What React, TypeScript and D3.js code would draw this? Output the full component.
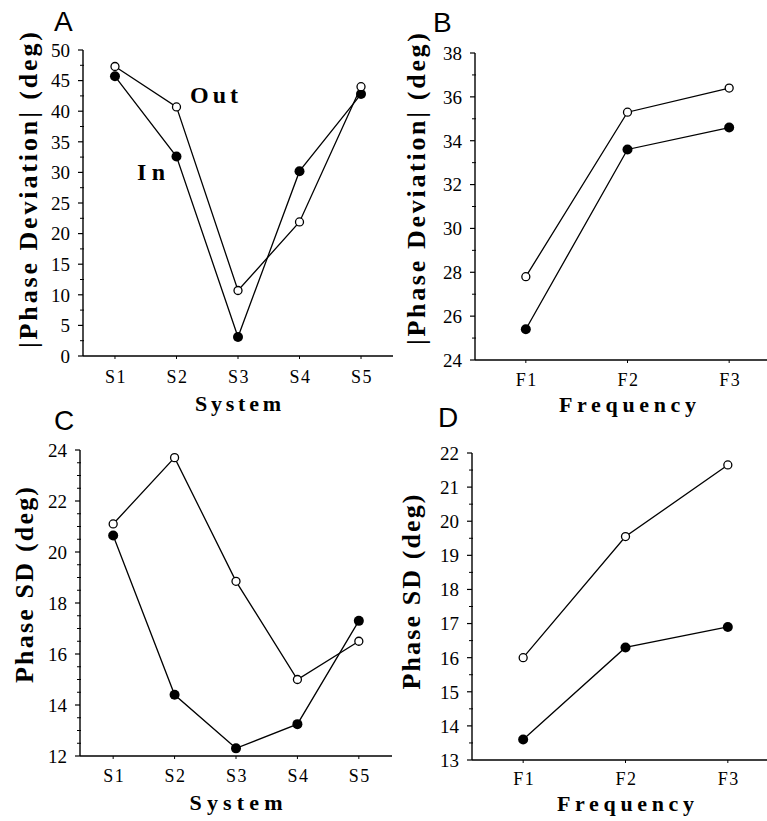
import React from "react";
import * as d3 from "d3";

// categories
const systems = ["S1", "S2", "S3", "S4", "S5"];
const freqs = ["F1", "F2", "F3"];

// |phase deviation| (deg)
const devSysOut = [47.3, 40.7, 10.7, 21.9, 44.0];
const devSysIn = [45.7, 32.6, 3.1, 30.2, 42.8];
const devFreqOut = [27.8, 35.3, 36.4];
const devFreqIn = [25.4, 33.6, 34.6];

// phase SD (deg)
const sdSysOut = [21.1, 23.7, 18.85, 15.0, 16.5];
const sdSysIn = [20.65, 14.4, 12.3, 13.25, 17.3];
const sdFreqOut = [16.0, 19.55, 21.65];
const sdFreqIn = [13.6, 16.3, 16.9];

const serif: React.CSSProperties = { fontFamily: '"Liberation Serif", "Times New Roman", "DejaVu Serif", serif' };
const sans: React.CSSProperties = { fontFamily: '"Liberation Sans", Arial, sans-serif' };

type PanelProps = {
  letter: string;
  letterX: number;
  letterY: number;
  cats: string[];
  outVals: number[];
  inVals: number[];
  yDomain: [number, number];
  major: number;
  minor: number;
  left: number;
  right: number;
  top: number;
  bottom: number;
  pad: number;
  yTitle: string;
  yTitleX: number;
  yTitleCy: number;
  yTitleLen: number;
  xTitle: string;
  xTitleY: number;
  xTitleLen: number;
  xTickY: number;
  children?: React.ReactNode;
};

function Panel(p: PanelProps) {
  const x = d3.scalePoint<string>().domain(p.cats).range([p.left, p.right]).padding(p.pad);
  const y = d3.scaleLinear().domain(p.yDomain).range([p.bottom, p.top]);

  const majors = d3.range(p.yDomain[0], p.yDomain[1] + 1e-6, p.major);
  const minors = d3
    .range(p.yDomain[0], p.yDomain[1] + 1e-6, p.minor)
    .filter(v => Math.abs(v / p.major - Math.round(v / p.major)) > 1e-6);

  const line = d3
    .line<number>()
    .x((d, i) => x(p.cats[i]) as number)
    .y(d => y(d));

  const xTitleCx = x(p.cats[Math.floor(p.cats.length / 2)]) as number;

  return (
    <g>
      <text x={p.letterX} y={p.letterY} style={sans} fontSize={28}>
        {p.letter}
      </text>

      {/* axes */}
      <line x1={p.left} x2={p.left} y1={p.top} y2={p.bottom} stroke="#000" strokeWidth={1.4} />
      <line x1={p.left} x2={p.right} y1={p.bottom} y2={p.bottom} stroke="#000" strokeWidth={1.4} />

      {majors.map(v => (
        <g key={"M" + v}>
          <line x1={p.left - 5} x2={p.left} y1={y(v)} y2={y(v)} stroke="#000" strokeWidth={1.2} />
          <text x={p.left - 13} y={y(v)} dy="0.36em" textAnchor="end" style={serif} fontSize={19}>
            {v}
          </text>
        </g>
      ))}
      {minors.map(v => (
        <line key={"m" + v} x1={p.left - 3} x2={p.left + 1} y1={y(v)} y2={y(v)} stroke="#000" strokeWidth={1} />
      ))}

      {p.cats.map(c => (
        <g key={c}>
          <line x1={x(c)} x2={x(c)} y1={p.bottom} y2={p.bottom + 3} stroke="#000" strokeWidth={1} />
          <text x={(x(c) as number) + 1} y={p.xTickY} textAnchor="middle" style={serif} fontSize={18} letterSpacing={1.5}>
            {c}
          </text>
        </g>
      ))}

      <text
        transform={`translate(${p.yTitleX},${p.yTitleCy}) rotate(-90)`}
        textAnchor="middle"
        style={serif}
        fontWeight="bold"
        fontSize={26}
        textLength={p.yTitleLen}
        lengthAdjust="spacing"
      >
        {p.yTitle}
      </text>
      <text
        x={xTitleCx - p.xTitleLen / 2}
        y={p.xTitleY}
        style={serif}
        fontWeight="bold"
        fontSize={22}
        textLength={p.xTitleLen}
        lengthAdjust="spacing"
      >
        {p.xTitle}
      </text>

      {/* series */}
      <path d={line(p.outVals) || ""} fill="none" stroke="#000" strokeWidth={1.3} />
      <path d={line(p.inVals) || ""} fill="none" stroke="#000" strokeWidth={1.3} />
      {p.inVals.map((v, i) => (
        <circle key={"i" + i} cx={x(p.cats[i])} cy={y(v)} r={5} fill="#000" />
      ))}
      {p.outVals.map((v, i) => (
        <circle key={"o" + i} cx={x(p.cats[i])} cy={y(v)} r={4} fill="#fff" stroke="#000" strokeWidth={1.3} />
      ))}
      {p.children}
    </g>
  );
}

export default function App() {
  return (
    <svg width={767} height={821} style={{ position: "absolute", left: 0, top: 0, background: "#fff" }}>
      <rect width={767} height={821} fill="#fff" />
      <Panel
        letter="A"
        letterX={54}
        letterY={31}
        cats={systems}
        outVals={devSysOut}
        inVals={devSysIn}
        yDomain={[0, 50]}
        major={5}
        minor={2.5}
        left={83}
        right={393}
        top={50}
        bottom={356}
        pad={0.52}
        yTitle="|Phase Deviation| (deg)"
        yTitleX={37}
        yTitleCy={190}
        yTitleLen={316}
        xTitle="System"
        xTitleY={411}
        xTitleLen={86}
        xTickY={383}
      >
        <text x={190} y={103} style={serif} fontWeight="bold" fontSize={24} textLength={48} lengthAdjust="spacing">
          Out
        </text>
        <text x={137} y={180} style={serif} fontWeight="bold" fontSize={24} textLength={28} lengthAdjust="spacing">
          In
        </text>
      </Panel>
      <Panel
        letter="B"
        letterX={433}
        letterY={32}
        cats={freqs}
        outVals={devFreqOut}
        inVals={devFreqIn}
        yDomain={[24, 38]}
        major={2}
        minor={1}
        left={475}
        right={780}
        top={53}
        bottom={360}
        pad={0.5}
        yTitle="|Phase Deviation| (deg)"
        yTitleX={425}
        yTitleCy={189}
        yTitleLen={312}
        xTitle="Frequency"
        xTitleY={412}
        xTitleLen={137}
        xTickY={386}
      />
      <Panel
        letter="C"
        letterX={54}
        letterY={430}
        cats={systems}
        outVals={sdSysOut}
        inVals={sdSysIn}
        yDomain={[12, 24]}
        major={2}
        minor={0.5}
        left={80}
        right={392}
        top={450}
        bottom={756}
        pad={0.54}
        yTitle="Phase SD (deg)"
        yTitleX={33}
        yTitleCy={585}
        yTitleLen={196}
        xTitle="System"
        xTitleY={810}
        xTitleLen={93}
        xTickY={782}
      />
      <Panel
        letter="D"
        letterX={438}
        letterY={427}
        cats={freqs}
        outVals={sdFreqOut}
        inVals={sdFreqIn}
        yDomain={[13, 22]}
        major={1}
        minor={0.5}
        left={472}
        right={779}
        top={453}
        bottom={760}
        pad={0.5}
        yTitle="Phase SD (deg)"
        yTitleX={420}
        yTitleCy={592}
        yTitleLen={195}
        xTitle="Frequency"
        xTitleY={811}
        xTitleLen={137}
        xTickY={785}
      />
    </svg>
  );
}
